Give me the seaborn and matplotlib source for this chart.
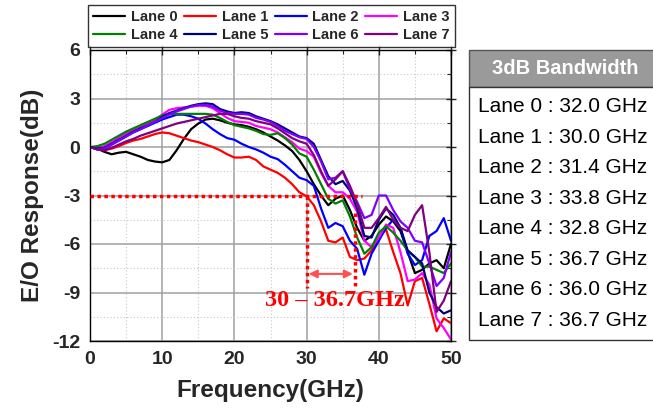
import numpy as np
import pandas as pd
import matplotlib.pyplot as plt
import seaborn as sns
from matplotlib.patches import Rectangle
from matplotlib.ticker import MultipleLocator

# frequency grid (GHz)
freq = list(range(0, 51))

lane0 = [0, -0.1, -0.3, -0.45, -0.35, -0.3, -0.45, -0.6, -0.8, -0.9,
         -0.95, -0.8, -0.2, 0.5, 1.1, 1.45, 1.7, 1.75, 1.65, 1.5,
         1.4, 1.35, 1.25, 1.1, 0.9, 0.65, 0.4, 0.1, -0.25, -0.8,
         -1.5, -2.3, -3.0, -3.6, -3.2, -3.0, -3.9, -5.0, -5.8, -5.5,
         -4.8, -4.3, -4.6, -5.2, -6.5, -7.8, -7.6, -7.2, -7.0, -7.5, -6.0]
lane1 = [0, -0.15, -0.2, -0.1, 0.05, 0.25, 0.4, 0.5, 0.65, 0.8,
         0.9, 0.85, 0.7, 0.55, 0.4, 0.3, 0.15, 0.0, -0.2, -0.45,
         -0.65, -0.65, -0.6, -0.8, -1.2, -1.4, -1.6, -1.9, -2.3, -2.8,
         -3.05, -3.6, -4.6, -5.8, -5.9, -5.6, -6.8, -7.0, -6.9, -6.4,
         -5.6, -5.1, -6.5, -7.8, -9.8, -8.3, -8.1, -9.7, -11.4, -10.6, -10.9]
lane2 = [0, -0.1, -0.1, 0.15, 0.4, 0.65, 0.9, 1.1, 1.3, 1.5,
         1.7, 1.85, 2.0, 2.0, 1.9, 1.75, 1.45, 1.1, 0.8, 0.55,
         0.45, 0.2, 0.0, -0.15, -0.35, -0.6, -0.75, -1.1, -1.5, -1.9,
         -2.05, -2.4, -3.8, -5.0, -4.7, -4.9, -5.8, -6.3, -7.9, -6.6,
         -5.8, -5.0, -4.5, -5.0, -6.6, -7.3, -7.0, -5.5, -5.2, -4.4, -5.8]
lane3 = [0, -0.05, 0.05, 0.3, 0.6, 0.85, 1.05, 1.25, 1.5, 1.65,
         2.0, 2.3, 2.4, 2.45, 2.5, 2.55, 2.55, 2.4, 2.1, 1.8,
         1.6, 1.55, 1.5, 1.3, 1.2, 1.1, 0.9, 0.6, 0.3, -0.1,
         -0.25, -0.6, -1.6, -2.4, -2.8, -2.8, -3.2, -4.0, -5.8, -6.2,
         -5.6, -4.8, -5.0, -6.5, -8.3, -8.2, -7.8, -8.5, -10.6, -11.2, -11.9]
lane4 = [0, 0.05, 0.2, 0.45, 0.7, 0.95, 1.15, 1.35, 1.55, 1.75,
         1.95, 2.05, 2.05, 2.05, 2.05, 2.05, 2.05, 2.0, 1.8, 1.55,
         1.35, 1.25, 1.15, 1.0, 0.8, 0.75, 0.85, 0.55, 0.15, -0.4,
         -0.6, -1.4, -2.3, -3.2, -3.5, -3.3, -4.3, -5.6, -6.6, -6.2,
         -5.3, -4.9, -5.3, -5.8, -6.4, -6.8, -7.4, -7.4, -7.6, -7.8, -7.2]
lane5 = [0, -0.1, -0.05, 0.2, 0.45, 0.7, 0.95, 1.15, 1.35, 1.55,
         1.85, 2.1, 2.25, 2.4, 2.55, 2.65, 2.7, 2.65, 2.35, 2.2,
         2.1, 2.15, 2.1, 1.9, 1.75, 1.6, 1.4, 1.15, 0.9, 0.65,
         0.55, 0.2, -0.8, -1.8, -2.3, -2.1, -2.7, -3.8, -5.5, -5.6,
         -4.5, -3.8, -4.2, -5.0, -6.4, -6.8, -7.2, -9.0, -9.9, -10.3, -10.1]
lane6 = [0, -0.15, -0.1, 0.15, 0.4, 0.65, 0.9, 1.1, 1.35, 1.55,
         1.8, 2.0, 2.2, 2.35, 2.5, 2.6, 2.6, 2.5, 2.25, 2.1,
         2.05, 2.05, 2.0, 1.8, 1.7, 1.55, 1.3, 1.0, 0.8, 0.6,
         0.5, 0.0, -0.9, -2.0, -1.9, -1.5, -2.6, -3.4, -4.4, -4.2,
         -3.0, -3.0, -3.9, -4.6, -5.0, -5.8, -5.9, -7.2, -8.6, -8.1, -6.5]
lane7 = [0, -0.15, -0.2, -0.05, 0.15, 0.35, 0.5, 0.7, 0.85, 1.0,
         1.15, 1.3, 1.45, 1.55, 1.65, 1.75, 1.85, 1.95, 2.05, 2.05,
         1.9, 1.8, 1.75, 1.6, 1.5, 1.4, 1.15, 0.85, 0.55, 0.35,
         0.2, -0.5, -1.5, -2.4, -2.0, -1.5, -2.4, -3.5, -5.0, -5.0,
         -4.4, -3.7, -4.5, -5.0, -5.2, -4.2, -3.6, -6.5, -10.2, -9.5, -8.3]

lanes = ["Lane 0", "Lane 1", "Lane 2", "Lane 3", "Lane 4", "Lane 5", "Lane 6", "Lane 7"]
series = [lane0, lane1, lane2, lane3, lane4, lane5, lane6, lane7]
colors = ["#000000", "#ff0000", "#0000ff", "#ff00ff", "#008000", "#000080", "#8000ff", "#800080"]
bandwidth = [32.0, 30.0, 31.4, 33.8, 32.8, 36.7, 36.0, 36.7]

df = pd.concat([pd.DataFrame({"Frequency": freq, "Response": s, "Lane": name})
                for name, s in zip(lanes, series)], ignore_index=True)

sns.set_style("white")
plt.rcParams["font.family"] = ["Liberation Sans", "DejaVu Sans"]
plt.rcParams["axes.unicode_minus"] = False

fig = plt.figure(figsize=(6.53, 4.09), dpi=100)
ax = fig.add_axes([90 / 653, 1 - 341 / 409, 361 / 653, 291 / 409])

sns.lineplot(data=df, x="Frequency", y="Response", hue="Lane",
             palette=dict(zip(lanes, colors)), linewidth=1.6,
             estimator=None, sort=False, ax=ax)

ax.set_xlim(0, 50)
ax.set_ylim(-12, 6)
ax.xaxis.set_major_locator(MultipleLocator(10))
ax.xaxis.set_minor_locator(MultipleLocator(5))
ax.yaxis.set_major_locator(MultipleLocator(3))
ax.yaxis.set_minor_locator(MultipleLocator(1.5))
ax.grid(which="major", color="#a0a0a0", linewidth=1.1, linestyle="-")
ax.grid(which="minor", color="#c8c8c8", linewidth=0.8, linestyle=(0, (1, 2)))
ax.set_axisbelow(True)
for sp in ax.spines.values():
    sp.set_color("black")
    sp.set_linewidth(1.0)
ax.tick_params(which="major", direction="inout", length=7, width=1,
               top=True, right=True, labelsize=14)
ax.tick_params(which="minor", direction="in", length=3, width=0.8,
               top=True, right=True)
for lab in ax.get_xticklabels() + ax.get_yticklabels():
    lab.set_fontweight("bold")
ax.set_xlabel("Frequency(GHz)", fontsize=17.5, fontweight="bold", labelpad=8)
ax.set_ylabel("E/O Response(dB)", fontsize=17.5, fontweight="bold", labelpad=6)

# legend above the axes, rows Lane 0-3 / Lane 4-7
handles, labels = ax.get_legend_handles_labels()
order = [0, 4, 1, 5, 2, 6, 3, 7]
leg = ax.legend([handles[i] for i in order], [labels[i] for i in order],
                ncol=4, loc="lower left", mode="expand",
                bbox_to_anchor=(-0.005, 1.01, 1.015, 0.14),
                prop={"weight": "bold", "size": 10.5}, frameon=True,
                fancybox=False, edgecolor="black", handlelength=2.2,
                handletextpad=0.4, columnspacing=0.4, borderpad=0.35,
                labelspacing=0.3, borderaxespad=0)
leg.get_frame().set_linewidth(1.0)

# -3 dB guide and bandwidth range
bw_lo, bw_hi = min(bandwidth), max(bandwidth)
dot = dict(color="red", linewidth=2.5, linestyle=(0, (1, 1)), zorder=5)
ax.plot([0, bw_hi + 1.0], [-3, -3], **dot)
ax.plot([bw_lo, bw_lo], [-3, -8.7], **dot)
ax.plot([bw_hi, bw_hi], [-4.1, -8.7], **dot)
ax.annotate("", xy=(bw_lo + 0.3, -7.85), xytext=(bw_hi - 0.3, -7.85),
            arrowprops=dict(arrowstyle="<|-|>", color="#ff5050", lw=1.5,
                            mutation_scale=12, shrinkA=0, shrinkB=0), zorder=6)
ax.text((bw_lo + bw_hi) / 2 + 0.5, -9.5, f"{bw_lo:.0f} \u2013 {bw_hi:.1f}GHz", color="red",
        fontsize=17.5, fontweight="bold", ha="center", va="center",
        family=["Liberation Serif", "DejaVu Serif"], zorder=7)

# bandwidth table on the right
W, H = 653, 409
fig.add_artist(Rectangle((469 / W, 1 - 87 / H), 200 / W, 37 / H, transform=fig.transFigure,
                         facecolor="#9a9a9a", edgecolor="#555555", linewidth=1.0))
fig.add_artist(Rectangle((469 / W, 1 - 340 / H), 200 / W, 253 / H, transform=fig.transFigure,
                         facecolor="white", edgecolor="#333333", linewidth=1.0))
fig.text(565 / W, 1 - 69 / H, "3dB Bandwidth", color="white", fontsize=14.5,
         fontweight="bold", ha="center", va="center")
for i, (name, bw) in enumerate(zip(lanes, bandwidth)):
    fig.text(478 / W, 1 - (106.7 + 30.5 * i) / H, f"{name} : {bw:.1f} GHz",
             fontsize=15, ha="left", va="center", color="black")

fig.savefig("out.png", dpi=100)
